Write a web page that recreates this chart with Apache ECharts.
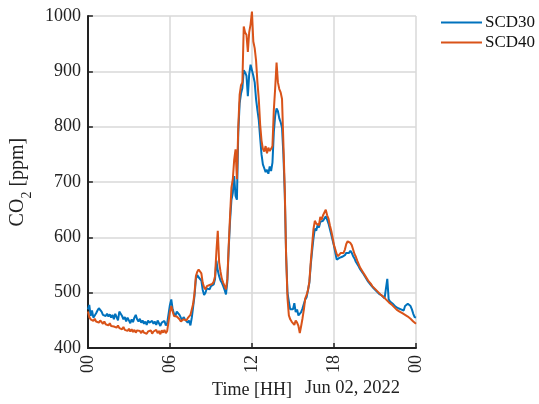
<!DOCTYPE html>
<html>
<head>
<meta charset="utf-8">
<script src="https://cdn.jsdelivr.net/npm/echarts@6/dist/echarts.min.js"></script>
<style>
  html, body { margin: 0; padding: 0; background: #fff; }
  #chart { width: 539px; height: 404px; }
</style>
</head>
<body>
<div id="chart"></div>
<script>
// CO2 readings of two sensors over one day, sampled every 0.1 h (00:00 .. 24:00)
const stepHours = 0.1;
const hours = Array.from({ length: 241 }, (_, i) => Math.round(i * stepHours * 10) / 10);

const tickLabels = ['00', '06', '12', '18', '00'];
const seriesNames = ['SCD30', 'SCD40'];
const dateLabel = 'Jun 02, 2022';

const scd30 = [
  470, 478, 458, 468, 455, 452, 463, 468, 472, 474,
  466, 460, 463, 458, 462, 457, 461, 455, 460, 452,
  462, 456, 450, 466, 468, 458, 452, 456, 448, 455,
  450, 445, 452, 447, 455, 460, 452, 448, 453, 446,
  450, 444, 448, 442, 450, 446, 443, 449, 444, 448,
  442, 450, 445, 440, 446, 443, 449, 441, 445, 447,
  478, 488, 470, 462, 458, 466, 469, 460, 455, 451,
  456, 452, 449, 446, 450, 441, 455, 475, 495, 525,
  532, 528, 530, 522, 505, 496, 500, 508, 510, 506,
  512, 510, 515, 525, 558, 540, 530, 522, 518, 512,
  505, 497, 520, 580, 630, 668, 680, 711, 675, 668,
  790, 842, 860, 870, 902, 898, 892, 855, 895, 912,
  914, 892, 880, 850, 830, 812, 780, 750, 732, 725,
  718, 722, 715, 728, 720, 735, 790, 820, 833, 828,
  815, 808, 798, 750, 680, 567, 500, 484, 470, 467,
  470, 481, 465, 470, 459, 457, 465, 472, 475, 488,
  492, 505, 518, 550, 575, 598, 616, 612, 622, 618,
  628, 625, 630, 633, 638, 632, 625, 615, 605, 595,
  585, 572, 560, 557, 563, 560, 565, 562, 568, 572,
  574, 572, 576, 572, 566, 562, 556, 552, 548, 543,
  540, 536, 533, 528, 526, 520, 518, 514, 512, 508,
  506, 503, 505, 498, 500, 495, 493, 490, 492, 525,
  488, 484, 486, 480, 478, 475, 476, 472, 474, 470,
  472, 468, 476, 474, 480, 482, 476, 470, 462, 456,
  455
];

const scd40 = [
  466, 456, 452, 455, 449, 453, 448, 451, 446, 450,
  447, 444, 448, 443, 446, 441, 445, 440, 443, 439,
  442, 437, 441, 436, 439, 434, 438, 433, 436, 431,
  435, 430, 434, 429, 433, 428, 432, 429, 431, 427,
  432, 428, 431, 426, 430, 427, 432, 426, 430, 428,
  433, 427, 431, 425, 432, 428, 433, 427, 431, 432,
  465, 476, 466, 458, 455, 457, 459, 452, 448, 446,
  452, 455, 450, 454, 457, 460, 462, 480, 500, 530,
  538, 542, 540, 535, 518, 510, 506, 512, 511, 514,
  514, 516, 520, 530, 575, 612, 555, 538, 525, 518,
  512, 506, 525, 585, 640, 690, 705, 740, 759, 705,
  800, 858, 875, 880, 981, 970, 966, 935, 971, 985,
  1008, 954, 942, 920, 880, 850, 804, 775, 760, 755,
  765, 752, 762, 756, 760, 765, 830, 870, 916, 880,
  868, 862, 850, 770, 687, 567, 490, 459, 452, 448,
  445, 442, 450, 446, 440, 427, 440, 454, 470, 490,
  496, 505, 520, 555, 585, 615, 630, 625, 628, 622,
  637, 632, 640, 645, 650, 640, 634, 622, 612, 600,
  586, 578, 570, 566, 568, 572, 570, 572, 578, 588,
  593, 595, 590, 586, 578, 570, 565, 558, 552, 546,
  542, 538, 535, 530, 526, 522, 519, 516, 512, 510,
  507, 505, 502, 500, 497, 495, 493, 490, 488, 485,
  483, 481, 479, 476, 474, 471, 469, 468, 466, 464,
  463, 462, 460, 458, 457, 454, 453, 450, 448, 446,
  444
];

const serif = "'Liberation Serif', 'Times New Roman', serif";
const ink = '#222222';
const gridColor = '#d9d9d9';
const colors = ['#0072BD', '#D95319'];

const chart = echarts.init(document.getElementById('chart'), null, { renderer: 'canvas' });

chart.setOption({
  animation: false,
  backgroundColor: '#ffffff',
  color: colors,
  textStyle: { fontFamily: serif },
  grid: { left: 84, right: 123, top: 16, bottom: 54, containLabel: false },
  legend: {
    orient: 'vertical',
    left: 441,
    top: 14,
    padding: 0,
    icon: 'rect',
    itemWidth: 41,
    itemHeight: 2,
    itemGap: 3,
    data: seriesNames,
    textStyle: { fontFamily: serif, fontSize: 17, color: '#111', lineHeight: 17, padding: [0, 0, 0, -2] }
  },
  xAxis: {
    type: 'value',
    min: 0,
    max: 24,
    interval: 6,
    name: 'Time [HH]',
    nameLocation: 'middle',
    nameGap: 24,
    nameTextStyle: { fontFamily: serif, fontSize: 18, color: ink },
    axisLine: { show: true, onZero: false, lineStyle: { color: ink, width: 2 } },
    axisTick: { show: true, inside: true, length: 5, lineStyle: { color: ink, width: 1.5 } },
    axisLabel: {
      rotate: 90,
      margin: 7,
      fontFamily: serif,
      fontSize: 18,
      color: ink,
      formatter: v => tickLabels[Math.round(v / 6)]
    },
    splitLine: { show: true, lineStyle: { color: gridColor, width: 1.5 } }
  },
  yAxis: {
    type: 'value',
    min: 400,
    max: 1000,
    interval: 100,
    name: '{a|CO}{b|2}{a| [ppm]}',
    nameLocation: 'middle',
    nameRotate: 90,
    nameGap: 46,
    nameTextStyle: {
      color: ink,
      rich: {
        a: { fontFamily: serif, fontSize: 20, color: ink, lineHeight: 24, verticalAlign: 'middle' },
        b: { fontFamily: serif, fontSize: 14, color: ink, lineHeight: 32, verticalAlign: 'bottom' }
      }
    },
    axisLine: { show: true, onZero: false, lineStyle: { color: ink, width: 2 } },
    axisTick: { show: true, inside: true, length: 5, lineStyle: { color: ink, width: 1.5 } },
    axisLabel: { margin: 7, fontFamily: serif, fontSize: 18, color: ink, formatter: v => String(v) },
    splitLine: { show: true, lineStyle: { color: gridColor, width: 1.5 } }
  },
  graphic: [
    {
      type: 'text',
      right: 139,
      top: 379,
      style: { text: dateLabel, fontFamily: serif, fontSize: 18.5, fill: ink }
    }
  ],
  series: [
    {
      name: seriesNames[0],
      type: 'line',
      showSymbol: false,
      clip: false,
      lineStyle: { width: 2, color: colors[0] },
      data: scd30.map((v, i) => [hours[i], v]),
      z: 3
    },
    {
      name: seriesNames[1],
      type: 'line',
      showSymbol: false,
      clip: false,
      lineStyle: { width: 2, color: colors[1] },
      data: scd40.map((v, i) => [hours[i], v]),
      z: 4
    }
  ]
});
</script>
</body>
</html>
